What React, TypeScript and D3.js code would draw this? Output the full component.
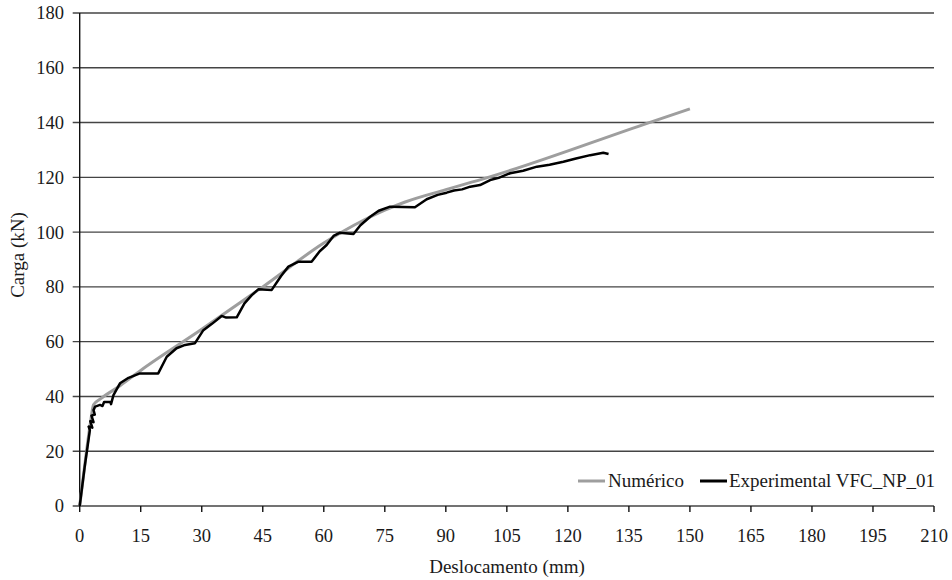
import React from 'react';
import * as d3 from 'd3';

// Numérico curve (mm, kN)
const numDesloc = [0, 1.5, 2.7, 3.4, 5, 10, 15, 30, 45, 60, 65, 70, 75, 80, 90, 100, 140, 150];
const numCarga = [0, 18, 31, 37, 39, 44, 49.5, 64.5, 80, 96, 100.5, 104.5, 108, 111, 115.5, 119.8, 140, 145];

// Experimental VFC_NP_01 (mm, kN)
const expDesloc = [
  0, 1.2, 2.5, 2.2, 3.1, 2.6, 3.4, 2.9, 3.7, 3.4, 3.8, 5.0, 5.6, 6.0, 7.5, 7.7, 8.3, 9.9, 12, 14.8,
  19.3, 21.4, 23.8, 25.9, 28.3, 30.4, 32.5, 34.9, 36, 38.6, 40.5, 42.3, 43.9, 47.2, 49.5, 51.3, 53.8,
  57.0, 59, 60.7, 62.4, 64, 67.3, 69, 71.4, 73.5, 76.3, 82.4, 85.3, 88, 90.2, 92, 94, 96, 98.4, 100.9,
  103, 105.8, 109, 112.4, 115.5, 118.9, 122, 125.5, 128.7, 130,
];
const expCarga = [
  0, 14, 27.7, 29, 28.6, 31, 30.6, 33, 33.4, 35, 36.3, 36.9, 36.5, 38.0, 38.0, 37.2, 40.5, 44.8, 46.8, 48.4,
  48.4, 54.5, 57.6, 58.8, 59.4, 64.2, 66.5, 69.4, 68.8, 68.9, 74, 77.0, 79.1, 78.9, 84, 87.4, 89.2,
  89.2, 93, 95.3, 98.6, 99.8, 99.3, 102.5, 105.6, 107.8, 109.3, 109.1, 112, 113.6, 114.4, 115.2, 115.6, 116.6, 117.2, 119,
  119.8, 121.5, 122.4, 123.9, 124.6, 125.7, 126.9, 128.1, 129, 128.5,
];

const xTicks = d3.range(0, 211, 15);
const yTicks = d3.range(0, 181, 20);

const W = 952;
const H = 580;
const font = '"Liberation Serif", "Times New Roman", serif';

export default function App() {
  const x = d3.scaleLinear().domain([0, 210]).range([79.7, 934]);
  const y = d3.scaleLinear().domain([0, 180]).range([506, 13]);

  const line = d3
    .line<[number, number]>()
    .x((d) => x(d[0]))
    .y((d) => y(d[1]));

  const numLine = d3
    .line<[number, number]>()
    .x((d) => x(d[0]))
    .y((d) => y(d[1]))
    .curve(d3.curveMonotoneX);

  const numPts = numDesloc.map((v, i) => [v, numCarga[i]] as [number, number]);
  const expPts = expDesloc.map((v, i) => [v, expCarga[i]] as [number, number]);

  return (
    <svg
      width={W}
      height={H}
      style={{ position: 'absolute', left: 0, top: 0, background: '#fff' }}
      fontFamily={font}
    >
      {/* horizontal grid + y ticks */}
      {yTicks.map((t) => (
        <g key={'y' + t}>
          <line x1={72.7} x2={x(210)} y1={y(t)} y2={y(t)} stroke="#444" strokeWidth={1.4} />
          <text x={64} y={y(t)} dy="0.35em" textAnchor="end" fontSize={18.5} fill="#1a1a1a">
            {t}
          </text>
        </g>
      ))}
      {/* y axis */}
      <line x1={x(0)} x2={x(0)} y1={y(180)} y2={y(0)} stroke="#111" strokeWidth={1.4} />
      {/* x ticks */}
      {xTicks.map((t) => (
        <g key={'x' + t}>
          <line x1={x(t)} x2={x(t)} y1={y(0)} y2={y(0) + 6} stroke="#111" strokeWidth={1.4} />
          <text x={x(t)} y={542} textAnchor="middle" fontSize={18.5} fill="#1a1a1a">
            {t}
          </text>
        </g>
      ))}

      {/* series */}
      <path d={numLine(numPts) ?? ''} fill="none" stroke="#9e9e9e" strokeWidth={3} strokeLinejoin="round" />
      <path d={line(expPts) ?? ''} fill="none" stroke="#000" strokeWidth={2.5} strokeLinejoin="round" />

      {/* legend */}
      <line x1={578} x2={605} y1={481} y2={481} stroke="#9e9e9e" strokeWidth={3} />
      <text x={608} y={487} fontSize={19} fill="#1a1a1a">Numérico</text>
      <line x1={700} x2={727} y1={481} y2={481} stroke="#000" strokeWidth={3} />
      <text x={729} y={487} fontSize={19} fill="#1a1a1a">Experimental VFC_NP_01</text>

      {/* axis titles */}
      <text x={507} y={573} textAnchor="middle" fontSize={19} fill="#1a1a1a">
        Deslocamento (mm)
      </text>
      <text
        transform={`translate(24, 255) rotate(-90)`}
        textAnchor="middle"
        fontSize={19}
        fill="#1a1a1a"
      >
        Carga (kN)
      </text>
    </svg>
  );
}
